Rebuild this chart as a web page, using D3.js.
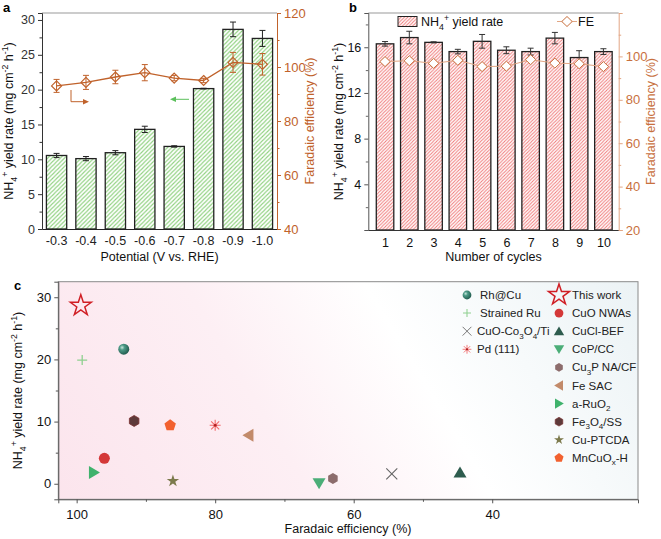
<!DOCTYPE html>
<html><head><meta charset="utf-8">
<script src="https://cdn.jsdelivr.net/npm/d3@7"></script>
<style>
body{margin:0;background:#fff}
text{font-family:"Liberation Sans",Arial,Helvetica,sans-serif}
</style>
</head><body>
<svg id="chart" width="661" height="539"></svg>
<script>
// ---------- DATA ----------
const potentials = ["-0.3","-0.4","-0.5","-0.6","-0.7","-0.8","-0.9","-1.0"];
const yieldA     = [10.55, 10.1, 10.95, 14.3, 11.85, 20.15, 28.65, 27.35];
const yieldAErr  = [0.3, 0.3, 0.3, 0.45, 0.1, 0.05, 1.05, 1.15];
const feA        = [93.0, 94.3, 96.3, 97.9, 95.9, 95.0, 101.7, 101.0];
const feAErr     = [2.4, 2.6, 2.5, 3.0, 1.0, 0.8, 3.7, 4.0];

const cycles     = [1,2,3,4,5,6,7,8,9,10];
const yieldB     = [16.3, 16.85, 16.43, 15.62, 16.52, 15.74, 15.62, 16.8, 15.1, 15.62];
const yieldBErr  = [0.2, 0.55, 0.05, 0.2, 0.6, 0.3, 0.3, 0.5, 0.6, 0.25];
const feB        = [97.6, 98.0, 96.8, 98.2, 95.3, 95.5, 98.5, 96.9, 96.6, 95.3];
const feBErr     = [1.2, 1.5, 1.5, 1.5, 1.5, 1.2, 1.2, 1.2, 1.2, 0.8];

const catalysts     = ["This work","Strained Ru","Rh@Cu","Fe3O4/SS","MnCuOx-H","Pd (111)","Fe SAC","CuO NWAs","a-RuO2","Cu-PTCDA","CoP/CC","Cu3P NA/CF","CuO-Co3O4/Ti","CuCl-BEF"];
const catalystFE    = [99.4, 99.2, 93.2, 91.7, 86.5, 80.0, 75.2, 96.0, 97.5, 86.1, 65.0, 63.0, 54.5, 44.65];
const catalystYield = [28.65, 19.9, 21.65, 10.1, 9.4, 9.4, 7.8, 4.1, 1.8, 0.43, 0.1, 0.85, 1.6, 1.8];

const yTicksA = [0,5,10,15,20,25,30];
const feTicksA = [40,60,80,100,120];
const yTicksB = [4,8,12,16];
const feTicksB = [20,40,60,80,100];
const xTicksC = [100,80,60,40];
const yTicksC = [0,10,20,30];

const legendLeft  = ["Rh@Cu","Strained Ru","CuO-Co3O4/Ti","Pd (111)"];
const legendRight = ["This work","CuO NWAs","CuCl-BEF","CoP/CC","Cu3P NA/CF","Fe SAC","a-RuO2","Fe3O4/SS","Cu-PTCDA","MnCuOx-H"];
const richNames = {
  "CuO-Co3O4/Ti": [["CuO-Co","n"],["3","sub"],["O","n"],["4","sub"],["/Ti","n"]],
  "Cu3P NA/CF": [["Cu","n"],["3","sub"],["P NA/CF","n"]],
  "a-RuO2": [["a-RuO","n"],["2","sub"]],
  "Fe3O4/SS": [["Fe","n"],["3","sub"],["O","n"],["4","sub"],["/SS","n"]],
  "MnCuOx-H": [["MnCuO","n"],["x","sub"],["-H","n"]]
};

// ---------- HELPERS ----------
const svg = d3.select("#chart");
const defs = svg.append("defs");
const ORANGE = "#c0622b";
const FONT = 12.5;

function hatch(id, color, sp, w) {
  const p = defs.append("pattern").attr("id", id).attr("patternUnits","userSpaceOnUse")
    .attr("width", sp).attr("height", sp);
  p.append("rect").attr("width", sp).attr("height", sp).attr("fill","#fff");
  p.append("path").attr("d", `M${-sp/2},${sp/2} L${sp/2},${-sp/2} M0,${sp} L${sp},0 M${sp/2},${sp*1.5} L${sp*1.5},${sp/2}`)
    .attr("stroke", color).attr("stroke-width", w);
}
hatch("hatchG", "#8fd17f", 4.2, 1.1);
hatch("hatchR", "#f07a7a", 3.4, 1);

function rich(sel, parts, fs) {
  let off = 0;
  parts.forEach(([t, m]) => {
    let target = 0, size = fs;
    if (m === "sub") { target = fs*0.3; size = fs*0.7; }
    if (m === "sup") { target = -fs*0.4; size = fs*0.7; }
    sel.append("tspan").attr("dy", target - off).attr("font-size", size).text(t);
    off = target;
  });
}
const nh4Title = [["NH","n"],["4","sub"],["+","sup"],[" yield rate (mg cm","n"],["-2","sup"],[" h","n"],["-1","sup"],[")","n"]];

function styleAxis(g, color, fs) {
  g.select(".domain").attr("stroke", color);
  g.selectAll(".tick line").attr("stroke", color);
  g.selectAll(".tick text").attr("fill", color).attr("font-size", fs).attr("font-family", '"Liberation Sans",Arial,sans-serif');
}

// ---------- PANEL A ----------
(function(){
  const L=42, R=277, T=13, B=229;
  const x = d3.scaleBand().domain(potentials).range([L,R]).paddingInner(0.31).paddingOuter(0.15);
  const y = d3.scaleLinear().domain([0,31]).range([B,T]);
  const y2 = d3.scaleLinear().domain([40,120]).range([B,T]);
  const g = svg.append("g");

  g.append("line").attr("x1",L).attr("x2",R).attr("y1",T).attr("y2",T).attr("stroke","#999");

  g.selectAll("rect.bar").data(potentials).join("rect")
    .attr("x", d=>x(d)).attr("width", x.bandwidth())
    .attr("y", (d,i)=>y(yieldA[i])).attr("height",(d,i)=>y(0)-y(yieldA[i]))
    .attr("fill","url(#hatchG)").attr("stroke","#222").attr("stroke-width",1.3);
  potentials.forEach((d,i)=>{
    const cx = x(d)+x.bandwidth()/2, y1=y(yieldA[i]+yieldAErr[i]), y0=y(yieldA[i]-yieldAErr[i]);
    g.append("path").attr("d",`M${cx},${y0}V${y1}M${cx-3},${y1}H${cx+3}M${cx-3},${y0}H${cx+3}`)
      .attr("stroke","#222").attr("fill","none").attr("stroke-width",1);
  });

  const ax = g.append("g").attr("transform",`translate(${L},0)`)
    .call(d3.axisLeft(y).tickValues(yTicksA).tickSize(4).tickPadding(3));
  g.append("g").attr("transform",`translate(${L},0)`)
    .call(d3.axisLeft(y).tickValues([2.5,7.5,12.5,17.5,22.5,27.5]).tickSize(2.5).tickFormat(""))
    .call(s=>{s.select(".domain").remove(); s.selectAll("line").attr("stroke","#333");});
  styleAxis(ax, "#333", FONT);
  const bx = g.append("g").attr("transform",`translate(0,${B})`)
    .call(d3.axisBottom(x).tickSize(0).tickPadding(7));
  styleAxis(bx, "#222", FONT);
  bx.select(".domain").attr("stroke-width",1.2);
  const rx = g.append("g").attr("transform",`translate(${R},0)`)
    .call(d3.axisRight(y2).tickValues(feTicksA).tickSize(4).tickPadding(3));
  g.append("g").attr("transform",`translate(${R},0)`)
    .call(d3.axisRight(y2).tickValues([50,70,90,110]).tickSize(2.5).tickFormat(""))
    .call(s=>{s.select(".domain").remove(); s.selectAll("line").attr("stroke",ORANGE);});
  styleAxis(rx, ORANGE, 13);

  const cx = (d)=>x(d)+x.bandwidth()/2;
  g.append("path").datum(potentials)
    .attr("d", d3.line().x(d=>cx(d)).y((d,i)=>y2(feA[i])))
    .attr("fill","none").attr("stroke",ORANGE).attr("stroke-width",1.3);
  potentials.forEach((d,i)=>{
    const px=cx(d), t=y2(feA[i]+feAErr[i]), b=y2(feA[i]-feAErr[i]);
    g.append("path").attr("d",`M${px},${b}V${t}M${px-3},${t}H${px+3}M${px-3},${b}H${px+3}`)
      .attr("stroke",ORANGE).attr("fill","none").attr("stroke-width",1);
  });
  g.selectAll("path.dia").data(potentials).join("path")
    .attr("transform",(d,i)=>`translate(${cx(d)},${y2(feA[i])})`)
    .attr("d","M0,-5L5,0L0,5L-5,0Z")
    .attr("fill","none").attr("stroke",ORANGE).attr("stroke-width",1.2);

  g.append("path").attr("d","M71,90V101.7H85").attr("fill","none").attr("stroke",ORANGE).attr("stroke-width",1);
  g.append("path").attr("d","M89,101.7L83,99L83,104.4Z").attr("fill",ORANGE);
  g.append("path").attr("d","M189,99.3H174").attr("fill","none").attr("stroke","#5cc05c").attr("stroke-width",1);
  g.append("path").attr("d","M170,99.3L176,96.6L176,102Z").attr("fill","#5cc05c");

  g.append("text").attr("x",3).attr("y",12).attr("font-weight","bold").attr("font-size",13).text("a");
  const yt = g.append("text").attr("transform",`translate(13,${(T+B)/2}) rotate(-90)`)
    .attr("text-anchor","middle").attr("font-size",FONT).attr("fill","#111");
  rich(yt, nh4Title, FONT);
  g.append("text").attr("transform",`translate(314,${(T+B)/2}) rotate(-90)`)
    .attr("text-anchor","middle").attr("font-size",FONT).attr("fill",ORANGE).text("Faradaic efficiency (%)");
  g.append("text").attr("x",(L+R)/2).attr("y",261).attr("text-anchor","middle").attr("font-size",FONT)
    .attr("fill","#111").text("Potential (V vs. RHE)");
})();

// ---------- PANEL B ----------
(function(){
  const L=368.3, R=618.7, T=13, B=230;
  const x = d3.scaleLinear().domain([0.31,10.63]).range([L,R]);
  const y = d3.scaleLinear().domain([0,19]).range([B,T]);
  const y2 = d3.scaleLinear().domain([20,120]).range([B,T]);
  const g = svg.append("g");
  const bw = 17.5;
  const FEC = "#c8703e", FEL = "#e2a684";

  g.append("line").attr("x1",L).attr("x2",R).attr("y1",T).attr("y2",T).attr("stroke","#999");

  g.selectAll("rect.bar").data(cycles).join("rect")
    .attr("x", d=>x(d)-bw/2).attr("width", bw)
    .attr("y",(d,i)=>y(yieldB[i])).attr("height",(d,i)=>y(0)-y(yieldB[i]))
    .attr("fill","url(#hatchR)").attr("stroke","#222").attr("stroke-width",1.3);
  cycles.forEach((d,i)=>{
    const cx=x(d), t=y(yieldB[i]+yieldBErr[i]), b=y(yieldB[i]-yieldBErr[i]);
    g.append("path").attr("d",`M${cx},${b}V${t}M${cx-3},${t}H${cx+3}M${cx-3},${b}H${cx+3}`)
      .attr("stroke","#333").attr("fill","none").attr("stroke-width",1);
  });

  const ax = g.append("g").attr("transform",`translate(${L},0)`)
    .call(d3.axisLeft(y).tickValues(yTicksB).tickSize(4).tickPadding(3));
  g.append("g").attr("transform",`translate(${L},0)`)
    .call(d3.axisLeft(y).tickValues([2,6,10,14,18]).tickSize(2.5).tickFormat(""))
    .call(s=>{s.select(".domain").remove(); s.selectAll("line").attr("stroke","#666");});
  styleAxis(ax, "#555", FONT);
  ax.selectAll(".tick text").attr("fill","#111");
  const bx = g.append("g").attr("transform",`translate(0,${B})`)
    .call(d3.axisBottom(x).tickValues(cycles).tickSize(0).tickPadding(8));
  styleAxis(bx, "#333", FONT);
  bx.selectAll(".tick text").attr("fill","#111");
  const rx = g.append("g").attr("transform",`translate(${R},0)`)
    .call(d3.axisRight(y2).tickValues(feTicksB).tickSize(4).tickPadding(3));
  g.append("g").attr("transform",`translate(${R},0)`)
    .call(d3.axisRight(y2).tickValues([30,50,70,90,110,120]).tickSize(2.5).tickFormat(""))
    .call(s=>{s.select(".domain").remove(); s.selectAll("line").attr("stroke",FEL);});
  styleAxis(rx, FEL, 13);
  rx.selectAll(".tick text").attr("fill",FEC);

  g.append("path").datum(cycles)
    .attr("d", d3.line().x(d=>x(d)).y((d,i)=>y2(feB[i])))
    .attr("fill","none").attr("stroke",FEL).attr("stroke-width",1);
  cycles.forEach((d,i)=>{
    const px=x(d), t=y2(feB[i]+feBErr[i]), b=y2(feB[i]-feBErr[i]);
    g.append("path").attr("d",`M${px},${b}V${t}M${px-2.5},${t}H${px+2.5}M${px-2.5},${b}H${px+2.5}`)
      .attr("stroke",FEL).attr("fill","none").attr("stroke-width",0.9);
  });
  g.selectAll("path.dia").data(cycles).join("path")
    .attr("transform",(d,i)=>`translate(${x(d)},${y2(feB[i])})`)
    .attr("d","M0,-5L5.2,0L0,5L-5.2,0Z")
    .attr("fill","#fff").attr("stroke",FEC).attr("stroke-width",1);

  g.append("rect").attr("x",398).attr("y",16.5).attr("width",19).attr("height",10)
    .attr("fill","url(#hatchR)").attr("stroke","#222").attr("stroke-width",1);
  const lt = g.append("text").attr("x",421).attr("y",26).attr("font-size",FONT).attr("fill","#111");
  rich(lt, [["NH","n"],["4","sub"],["+","sup"],[" yield rate","n"]], FONT);
  g.append("line").attr("x1",557).attr("x2",577).attr("y1",21.5).attr("y2",21.5).attr("stroke",FEL);
  g.append("path").attr("transform","translate(567,21.5)").attr("d","M0,-5L5.2,0L0,5L-5.2,0Z")
    .attr("fill","#fff").attr("stroke",FEC).attr("stroke-width",1);
  g.append("text").attr("x",578).attr("y",26).attr("font-size",FONT).attr("fill","#111").text("FE");

  g.append("text").attr("x",349).attr("y",12).attr("font-weight","bold").attr("font-size",13).text("b");
  const yt = g.append("text").attr("transform",`translate(343,${(T+B)/2}) rotate(-90)`)
    .attr("text-anchor","middle").attr("font-size",FONT).attr("fill","#111");
  rich(yt, nh4Title, FONT);
  g.append("text").attr("transform",`translate(655,${(T+B)/2}) rotate(-90)`)
    .attr("text-anchor","middle").attr("font-size",FONT).attr("fill",FEC).text("Faradaic efficiency (%)");
  g.append("text").attr("x",(L+R)/2).attr("y",261).attr("text-anchor","middle").attr("font-size",FONT)
    .attr("fill","#111").text("Number of cycles");
})();

// ---------- PANEL C ----------
(function(){
  const L=58.3, R=638, T=281.7, B=499.3;
  const x = d3.scaleLinear().domain([102.65,18.95]).range([L,R]);
  const y = d3.scaleLinear().domain([-2.5,32.5]).range([B,T]);
  const g = svg.append("g");

  const grad = defs.append("linearGradient").attr("id","bgC").attr("gradientUnits","userSpaceOnUse")
    .attr("x1",60).attr("y1",600).attr("x2",720).attr("y2",200);
  grad.append("stop").attr("offset","0%").attr("stop-color","#fbe2eb");
  grad.append("stop").attr("offset","35%").attr("stop-color","#fdeff4");
  grad.append("stop").attr("offset","55%").attr("stop-color","#ffffff");
  grad.append("stop").attr("offset","80%").attr("stop-color","#eff5f7");
  grad.append("stop").attr("offset","100%").attr("stop-color","#e2ecf0");
  g.append("rect").attr("x",L).attr("y",T).attr("width",R-L).attr("height",B-T)
    .attr("fill","url(#bgC)").attr("stroke","#8a8a8a").attr("stroke-width",1);

  const ax = g.append("g").attr("transform",`translate(${L},0)`)
    .call(d3.axisLeft(y).tickValues(yTicksC).tickSize(4).tickPadding(3));
  g.append("g").attr("transform",`translate(${L},0)`)
    .call(d3.axisLeft(y).tickValues([5,15,25]).tickSize(2.5).tickFormat(""))
    .call(s=>{s.select(".domain").remove(); s.selectAll("line").attr("stroke","#555");});
  styleAxis(ax, "#555", 13);
  ax.selectAll(".tick text").attr("fill","#111");
  const bx = g.append("g").attr("transform",`translate(0,${B})`)
    .call(d3.axisBottom(x).tickValues(xTicksC).tickSize(4).tickPadding(6));
  g.append("g").attr("transform",`translate(0,${B})`)
    .call(d3.axisBottom(x).tickValues([90,70,50]).tickSize(2.5).tickFormat(""))
    .call(s=>{s.select(".domain").remove(); s.selectAll("line").attr("stroke","#555");});
  styleAxis(bx, "#555", 13);
  bx.selectAll(".tick text").attr("fill","#111");

  const rg = defs.append("radialGradient").attr("id","sph").attr("cx","35%").attr("cy","35%").attr("r","65%");
  rg.append("stop").attr("offset","0%").attr("stop-color","#c8e6dc");
  rg.append("stop").attr("offset","35%").attr("stop-color","#4c9a86");
  rg.append("stop").attr("offset","100%").attr("stop-color","#245f52");

  const poly = (n, r, rot) => d3.range(n).map(k=>{const a=rot+k*2*Math.PI/n; return [r*Math.cos(a), r*Math.sin(a)];});
  const polyPath = (pts)=>"M"+pts.map(p=>p.join(",")).join("L")+"Z";

  function marker(sel, name) {
    switch(name) {
      case "This work":
        sel.append("path").attr("d", d3.symbol(d3.symbolStar, 136)()).attr("fill","none")
          .attr("stroke","#d01f25").attr("stroke-width",1.5); break;
      case "Strained Ru":
        sel.append("path").attr("d","M-5,0H5M0,-5V5").attr("stroke","#8fd08f").attr("stroke-width",1.3); break;
      case "Rh@Cu":
        sel.append("circle").attr("r",5.5).attr("fill","url(#sph)"); break;
      case "Fe3O4/SS":
        sel.append("path").attr("d",polyPath(poly(6,5.5,Math.PI/6))).attr("fill","#5e3a3a").attr("stroke","#7a3030").attr("stroke-width",0.8); break;
      case "MnCuOx-H":
        sel.append("path").attr("d",polyPath(poly(5,6,-Math.PI/2))).attr("fill","#f2612f"); break;
      case "Pd (111)":
        sel.append("path").attr("d","M-5.5,0H5.5M0,-5.5V5.5M-4,-4L4,4M-4,4L4,-4").attr("stroke","#f26b6b").attr("stroke-width",1.1);
        sel.append("circle").attr("r",1.4).attr("fill","#b02020"); break;
      case "Fe SAC":
        sel.append("path").attr("d","M-6,0L5,-6.5L5,6.5Z").attr("fill","#c28a6a"); break;
      case "CuO NWAs":
        sel.append("circle").attr("r",5.5).attr("fill","#d43838"); break;
      case "a-RuO2":
        sel.append("path").attr("d","M6,0L-5,-6.5L-5,6.5Z").attr("fill","#3fb26c"); break;
      case "Cu-PTCDA":
        sel.append("path").attr("d", d3.symbol(d3.symbolStar, 48)()).attr("fill","#7c7a4c"); break;
      case "CoP/CC":
        sel.append("path").attr("d","M0,6L-6.5,-5L6.5,-5Z").attr("fill","#4bae78"); break;
      case "Cu3P NA/CF":
        sel.append("path").attr("d",polyPath(poly(6,5.5,Math.PI/6))).attr("fill","#8c6c6c"); break;
      case "CuO-Co3O4/Ti":
        sel.append("path").attr("d","M-5.5,-5.5L5.5,5.5M-5.5,5.5L5.5,-5.5").attr("stroke","#666").attr("stroke-width",1.1); break;
      case "CuCl-BEF":
        sel.append("path").attr("d","M0,-6L6.5,5L-6.5,5Z").attr("fill","#2e5c4e"); break;
    }
  }

  catalysts.forEach((c,i)=>{
    const s = g.append("g").attr("transform",`translate(${x(catalystFE[i])},${y(catalystYield[i])})`);
    marker(s, c);
  });

  function legText(xp, yp, name) {
    const t = g.append("text").attr("x",xp).attr("y",yp+4).attr("font-size",11.5).attr("fill","#222");
    if (richNames[name]) rich(t, richNames[name], 11.5); else t.text(name);
  }
  legendLeft.forEach((n,i)=>{
    const yp = 295 + i*18.1;
    const s = g.append("g").attr("transform",`translate(467,${yp}) scale(0.8)`);
    marker(s, n);
    legText(n==="CuO-Co3O4/Ti"||n==="Pd (111)" ? 477 : 480, yp, n);
  });
  legendRight.forEach((n,i)=>{
    const yp = 295 + i*18.1;
    const sc = n==="This work" ? 1 : 0.8;
    const s = g.append("g").attr("transform",`translate(559,${yp}) scale(${sc})`);
    marker(s, n);
    legText(572, yp, n);
  });

  g.append("text").attr("x",14).attr("y",290).attr("font-weight","bold").attr("font-size",13).text("c");
  const yt = g.append("text").attr("transform",`translate(22,${(T+B)/2}) rotate(-90)`)
    .attr("text-anchor","middle").attr("font-size",FONT).attr("fill","#111");
  rich(yt, nh4Title, FONT);
  g.append("text").attr("x",348).attr("y",533).attr("text-anchor","middle").attr("font-size",FONT)
    .attr("fill","#111").text("Faradaic efficiency (%)");
})();
</script>
</body></html>
